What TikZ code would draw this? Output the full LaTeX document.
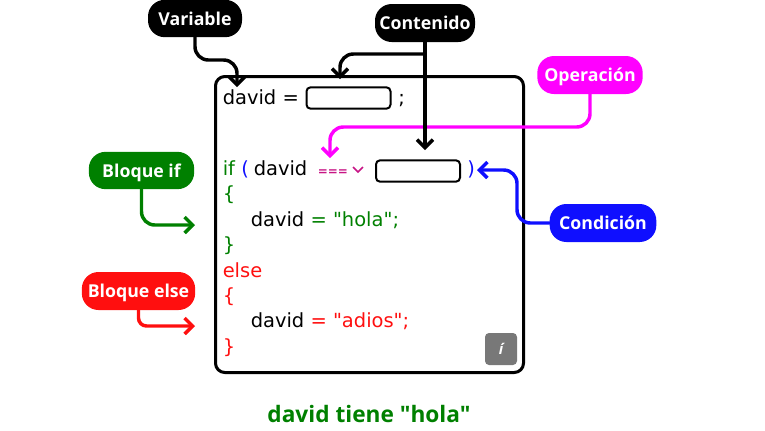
\documentclass[tikz,border=0pt]{standalone}
\usepackage{fontspec}
\newfontfamily\codfont{DejaVu Sans}
\newfontfamily\lblfont{Open Sans}
\usetikzlibrary{arrows.meta}
\definecolor{verde}{HTML}{008000}
\definecolor{rojo}{HTML}{FF0F0F}
\definecolor{azul}{HTML}{0F0FFF}
\definecolor{magen}{HTML}{FF00FF}
\definecolor{selec}{HTML}{C71585}
\tikzstyle{lbl}=[rounded corners=12.5pt,text=white,inner sep=0pt,text height=11.8pt,text depth=1.4pt,font=\lblfont\bfseries\fontsize{13.3}{15}\selectfont]
\tikzstyle{cod}=[anchor=base west,inner sep=0pt,font=\codfont\fontsize{14.6}{16}\selectfont]
\tikzstyle{hueco}=[draw=black,fill=white,line width=1.5pt,rounded corners=3pt,minimum width=63pt,minimum height=16pt,inner sep=0pt]
\tikzstyle{flecha}=[line width=2.6pt,line cap=round,rounded corners=10pt,-{Straight Barb[length=6pt,width=12pt,line width=2.6pt]}]
\begin{document}
\begin{tikzpicture}[x=0.75pt,y=-0.75pt]
\useasboundingbox (0,0) rectangle (765,430);
\node[draw=black,line width=2.25pt,rounded corners=7pt,minimum width=231pt,minimum height=222pt,inner sep=0pt] (marco) at (369.5,224.5) {};
% codigo
\node[cod] (d1) at (222.5,104) {david =};
\node[hueco] (h1) at (348.5,98) {};
\node[cod] (pc) at (398,104) {;};
\node[cod,text=verde] (si) at (222.5,175) {if};
\node[cod,text=azul] (pa) at (241,175) {(};
\node[cod] (d2) at (253.5,175) {david};
\node[cod,text=selec,font=\codfont\bfseries\fontsize{9}{11}\selectfont] (op) at (317.5,175) {===};
\draw[selec,line width=1.1pt] (353,167) -- (358,172) -- (363,167);
\node[hueco] (h2) at (418,171) {};
\node[cod,text=azul] (pc2) at (467,175) {)};
\node[cod,text=verde] (l1) at (222.5,200) {\{};
\node[cod] (d3) at (250.5,226) {david \textcolor{verde}{= "hola";}};
\node[cod,text=verde] (l2) at (222.5,251) {\}};
\node[cod,text=rojo] (no) at (222.5,277) {else};
\node[cod,text=rojo] (l3) at (222.5,302) {\{};
\node[cod] (d4) at (250.5,327) {david \textcolor{rojo}{= "adios";}};
\node[cod,text=rojo] (l4) at (222.5,353) {\}};
\node[fill=black!53,rounded corners=3pt,minimum size=24pt,inner sep=0pt,text=white,font=\lblfont\bfseries\itshape\fontsize{11}{12}\selectfont] (info) at (501,349) {í};
\node[font=\lblfont\bfseries\fontsize{17}{20}\selectfont,text=verde,inner sep=0pt] (res) at (369,414) {david tiene "hola"};
% etiquetas
\node[lbl,fill=black,minimum width=70.5pt,minimum height=28pt] (variable) at (195,18.5) {Variable};
\node[lbl,fill=black,minimum width=75pt,minimum height=28.5pt] (contenido) at (425,23) {Contenido};
\node[lbl,fill=magen,minimum width=79pt,minimum height=28.5pt] (operacion) at (590,75) {Operación};
\node[lbl,fill=azul,minimum width=80pt,minimum height=28.5pt] (condicion) at (603,223) {Condición};
\node[lbl,fill=verde,minimum width=79pt,minimum height=28pt] (bif) at (141.5,170.5) {Bloque if};
\node[lbl,fill=rojo,minimum width=85pt,minimum height=28.5pt] (belse) at (138.5,291) {Bloque else};
% flechas
\coordinate (t1) at (237,87);
\coordinate (t2) at (340,79);
\coordinate (t3) at (425,150);
\coordinate (t4) at (330,158);
\coordinate (t5) at (477,170);
\coordinate (t6) at (195,225);
\coordinate (t7) at (195,326);
\coordinate (rama) at (425,54);
\draw[flecha,magen] (operacion.south) |- (t4|-0,127) -- (t4);
\draw[flecha,black] (variable.south) |- (t1|-0,60) -- (t1);
\draw[flecha,black] (rama) -| (t2);
\draw[flecha,black] (contenido.south) -- (t3);
\draw[flecha,azul] (condicion.west) -| (517,170) -- (t5);
\draw[flecha,verde] (bif.south) |- (t6);
\draw[flecha,rojo,rounded corners=6pt] (belse.south) |- (t7);
\end{tikzpicture}
\end{document}
